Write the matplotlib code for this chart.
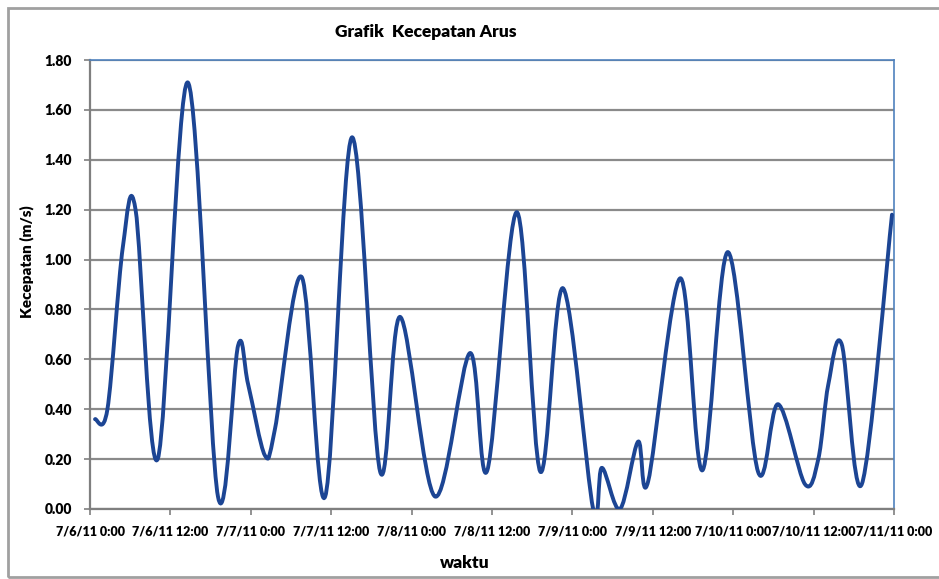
import matplotlib
matplotlib.use('Agg')
import matplotlib.pyplot as plt
from matplotlib.path import Path
from matplotlib.patches import PathPatch, Rectangle
import numpy as np

# Data (hours since 7/6/11 0:00, speed in m/s)
hours = [0.75, 2.6, 4.9, 6.8, 10.1, 14.6, 19.1, 22.1, 23.6, 26.1, 27.6, 31.6,
         35.1, 39.1, 43.3, 46.3, 51.5, 56.7, 59.3, 63.7, 67.2, 70.6, 75.1, 76.4,
         79.1, 81.8, 83.3, 88.1, 91.4, 95.2, 99.7, 102.7, 106.7, 108.7, 110.2,
         112.2, 115.2, 119.7]
speeds = [0.36, 0.40, 1.05, 1.20, 0.20, 1.71, 0.05, 0.655, 0.50, 0.215, 0.32, 0.93,
          0.05, 1.49, 0.15, 0.77, 0.05, 0.625, 0.155, 1.19, 0.15, 0.885, 0.0, 0.165,
          0.0, 0.27, 0.11, 0.925, 0.155, 1.03, 0.15, 0.42, 0.10, 0.20, 0.50,
          0.66, 0.10, 1.18]

tick_hours = [0, 12, 24, 36, 48, 60, 72, 84, 96, 108, 120]
tick_labels = ['7/6/11 0:00', '7/6/11 12:00', '7/7/11 0:00', '7/7/11 12:00',
               '7/8/11 0:00', '7/8/11 12:00', '7/9/11 0:00', '7/9/11 12:00',
               '7/10/11 0:00', '7/10/11 12:00', '7/11/11 0:00']
y_ticks = [0.0, 0.2, 0.4, 0.6, 0.8, 1.0, 1.2, 1.4, 1.6, 1.8]

plt.rcParams['font.family'] = ['Lato', 'DejaVu Sans']

fig = plt.figure(figsize=(9.39, 5.79), dpi=100)
ax = fig.add_axes([90 / 939, 70 / 579, 804 / 939, 449 / 579])

# outer chart border (runs off the right edge like in the original)
fig.patches.append(Rectangle((8 / 939, 2 / 579), 960 / 939, 569 / 579,
                             transform=fig.transFigure, fill=False,
                             edgecolor='#a0a0a0', linewidth=2))


# Excel-like smoothed line (Catmull-Rom through the data points)
def smooth_path(xs, ys):
    pts = np.column_stack([xs, ys])
    verts = [pts[0]]
    codes = [Path.MOVETO]
    n = len(pts)
    for i in range(n - 1):
        p0 = pts[i - 1] if i > 0 else pts[i]
        p1 = pts[i]
        p2 = pts[i + 1]
        p3 = pts[i + 2] if i + 2 < n else pts[i + 1]
        c1 = p1 + (p2 - p0) / 6
        c2 = p2 - (p3 - p1) / 6
        verts += [c1, c2, p2]
        codes += [Path.CURVE4] * 3
    return Path(verts, codes)


ax.add_patch(PathPatch(smooth_path(hours, speeds), facecolor='none',
                       edgecolor='#1c4594', linewidth=2.8, capstyle='round',
                       joinstyle='round', zorder=3))

ax.set_xlim(0, 120)
ax.set_ylim(0, 1.8)
ax.set_xticks(tick_hours)
ax.set_xticklabels(tick_labels, fontsize=9, fontweight='heavy')
ax.set_yticks(y_ticks)
ax.set_yticklabels(['%.2f' % v for v in y_ticks], fontsize=10, fontweight='heavy')
ax.tick_params(axis='both', direction='out', length=4, color='#7f7f7f', width=1.2)
ax.tick_params(axis='x', pad=8)
ax.tick_params(axis='y', pad=9)

ax.yaxis.grid(True, color='#8a8a8a', linewidth=1.6)
ax.set_axisbelow(True)

for s in ['left', 'bottom']:
    ax.spines[s].set_color('#7f7f7f')
    ax.spines[s].set_linewidth(1.6)
for s in ['top', 'right']:
    ax.spines[s].set_color('#4f81bd')
    ax.spines[s].set_linewidth(1.2)

fig.text(426 / 939, 1 - 32 / 579, 'Grafik  Kecepatan Arus', ha='center', va='center',
         fontsize=12.5, fontweight='heavy')
fig.text(27 / 939, 1 - 262 / 579, 'Kecepatan (m/s)', ha='center', va='center',
         rotation=90, fontsize=11, fontweight='heavy')
fig.text(465 / 939, 1 - 563 / 579, 'waktu', ha='center', va='center',
         fontsize=12.5, fontweight='heavy')

fig.savefig('out.png', dpi=100)
